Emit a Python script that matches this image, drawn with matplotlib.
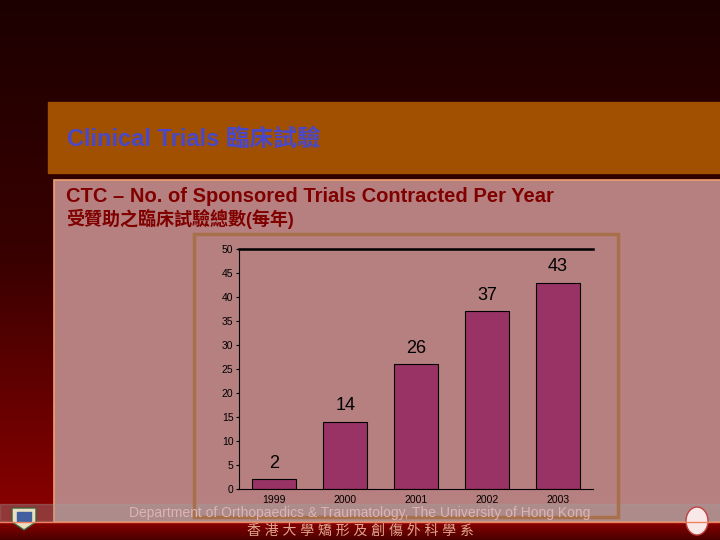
import matplotlib
matplotlib.use('Agg')
import matplotlib.pyplot as plt
import numpy as np
from matplotlib.patches import Rectangle, Ellipse, Polygon
from matplotlib.colors import LinearSegmentedColormap

years = ['1999', '2000', '2001', '2002', '2003']
trials = [2, 14, 26, 37, 43]
y_ticks = [0, 5, 10, 15, 20, 25, 30, 35, 40, 45, 50]

title_text = 'Clinical Trials 臨床試驗'
heading_en = 'CTC – No. of Sponsored Trials Contracted Per Year'
heading_zh = '受贊助之臨床試驗總數(每年)'
footer_en = 'Department of Orthopaedics & Traumatology, The University of Hong Kong'
footer_zh = '香 港 大 學 矯 形 及 創 傷 外 科 學 系'

fonts = ['Liberation Sans', 'Noto Sans CJK TC', 'DejaVu Sans']

fig = plt.figure(figsize=(7.2, 5.4), dpi=100)

# slide background, drawn in pixel coordinates
bg = fig.add_axes([0, 0, 1, 1])
bg.axis('off')
grad = np.linspace(0, 1, 256).reshape(-1, 1)
cmap = LinearSegmentedColormap.from_list('slide', ['#1c0000', '#3a0000', '#8c0000'])
bg.imshow(grad, cmap=cmap, extent=[0, 720, 522, 0], aspect='auto')
cmap2 = LinearSegmentedColormap.from_list('foot', ['#8a0000', '#4a0000'])
bg.imshow(grad, cmap=cmap2, extent=[0, 720, 540, 522], aspect='auto')
bg.set_xlim(0, 720)
bg.set_ylim(540, 0)

bg.add_patch(Rectangle((48, 102), 672, 71, color='#a05000'))
bg.add_patch(Rectangle((54, 180), 670, 342, facecolor='#b68080',
                       edgecolor='#f0a070', linewidth=1.2))
bg.add_patch(Rectangle((0, 504), 720, 17, color='#a0a0a0', alpha=0.35))
bg.plot([0, 720], [522, 522], color='#f08060', linewidth=1)
bg.add_patch(Rectangle((194, 234), 424, 283, facecolor='none',
                       edgecolor='#a8704a', linewidth=2.5))

bg.text(67, 139, title_text, color='#4848c8', fontsize=17, fontweight='bold',
        family=fonts, va='center', ha='left')
bg.text(66, 197, heading_en, color='#800000', fontsize=14.5, fontweight='bold',
        family=fonts, va='center', ha='left')
bg.text(66, 219, heading_zh, color='#800000', fontsize=13, fontweight='bold',
        family=fonts, va='center', ha='left')
bg.text(360, 513, footer_en, color='#dcb4b4', fontsize=10,
        family=fonts, va='center', ha='center')
bg.text(360, 531, footer_zh, color='#e0a890', fontsize=10,
        family=fonts, va='center', ha='center')

# crude logos in the corners
bg.add_patch(Polygon([[12, 508], [36, 508], [36, 522], [24, 530], [12, 522]],
                     closed=True, facecolor='#e8e0c0', edgecolor='#406040', linewidth=1))
bg.add_patch(Rectangle((17, 512), 14, 9, color='#4060a0'))
bg.add_patch(Ellipse((697, 521), 22, 28, facecolor='#f8e8e8', edgecolor='#c04040', linewidth=1))

# the chart itself
ax = fig.add_axes([239 / 720, 51 / 540, 354 / 720, 240 / 540])
ax.patch.set_alpha(0)
x = np.arange(len(years))
ax.bar(x, trials, width=0.62, color='#993366', edgecolor='black', linewidth=0.8)
for xi, v in zip(x, trials):
    ax.text(xi, v + 1.6, str(v), ha='center', va='bottom', fontsize=13,
            family=fonts, color='black')
ax.set_xlim(-0.5, 4.5)
ax.set_ylim(0, 50)
ax.set_yticks(y_ticks)
ax.set_xticks(x)
ax.set_xticklabels(years)
ax.tick_params(axis='x', length=0, labelsize=7.5, pad=4)
ax.tick_params(axis='y', length=2, labelsize=7.5, pad=2)
for lab in ax.get_xticklabels() + ax.get_yticklabels():
    lab.set_family(fonts)
ax.spines['right'].set_visible(False)
ax.spines['top'].set_linewidth(1.8)
ax.spines['left'].set_linewidth(0.8)
ax.spines['bottom'].set_linewidth(0.8)

fig.savefig('out.png', dpi=100)
